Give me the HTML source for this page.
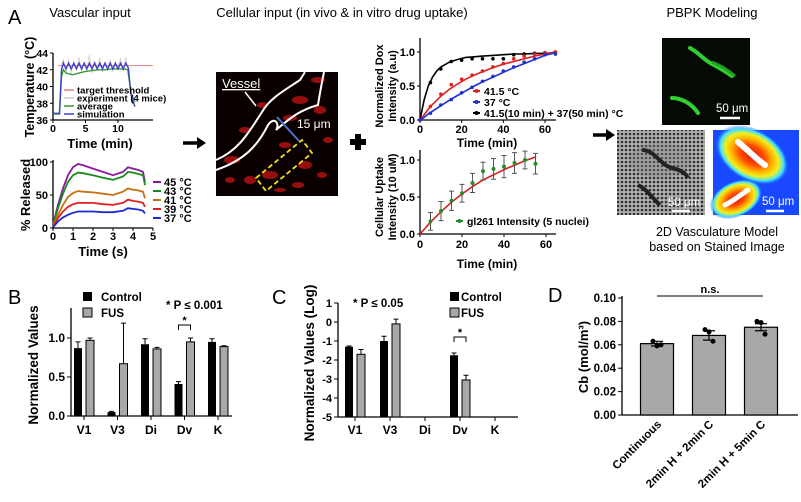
<!DOCTYPE html>
<html><head><meta charset="utf-8"><style>
body{margin:0;background:#fff}
svg{display:block;font-family:"Liberation Sans",Arial,sans-serif}
.t{font-weight:bold}
.ax{stroke:#000;stroke-width:1.3;fill:none}
</style></head><body>
<svg id="fig" width="801" height="502" viewBox="0 0 801 502" xmlns="http://www.w3.org/2000/svg">
<defs>
<radialGradient id="hg1" cx="0.5" cy="0.5" r="0.5"><stop offset="0" stop-color="#e01010"/><stop offset="0.35" stop-color="#ff5000"/><stop offset="0.55" stop-color="#ffb000"/><stop offset="0.72" stop-color="#f0f020"/><stop offset="0.86" stop-color="#40e0ff"/><stop offset="1" stop-color="#1848ff" stop-opacity="0"/></radialGradient>
<pattern id="mesh" width="4" height="4" patternUnits="userSpaceOnUse"><rect width="4" height="4" fill="#b0b0b0"/><circle cx="2" cy="2" r="1.3" fill="#303030"/></pattern>
</defs>
<g id="root"></g>
</svg>
<script>
// ---- data ----
const tempThreshold=[42.5];
const expT=[1.2,1.6,2,2.4,2.8,3.2,3.6,4,4.4,4.8,5.2,5.6,6,6.4,6.8,7.2,7.6,8,8.4,8.8,9.2,9.6,10,10.4,10.8,11.2,11.6,12,12.4];
const expV=[42.5,43.2,41.6,43.3,41.5,42.9,42.0,43.5,41.8,42.9,41.9,43.8,41.6,43.1,42.0,43.4,41.7,42.9,41.9,43.3,41.8,42.8,42.2,43.4,41.8,43.5,41.5,39.5,38.5];
const avgT=[0,1,1.3,1.6,2,3,4,5,6,7,8,9,10,11,11.5,12,12.6];
const avgV=[36.7,36.7,41.2,42.0,41.6,41.4,41.6,41.8,41.9,42.0,42.0,42.1,42.1,42.1,42.0,39.2,38.2];
const simT=[0,1,1.3,1.6,2,2.4,2.8,3.2,3.6,4,4.4,4.8,5.2,5.6,6,6.4,6.8,7.2,7.6,8,8.4,8.8,9.2,9.6,10,10.4,10.8,11.2,11.6,12,12.6];
const simV=[36.8,36.8,42.0,42.8,42.1,42.8,42.1,42.8,42.1,42.8,42.1,42.8,42.1,42.8,42.1,42.8,42.1,42.8,42.1,42.8,42.1,42.8,42.1,42.8,42.1,42.8,42.1,42.8,42.2,39.0,37.6];
const relT=[0,0.25,0.5,0.75,1,1.25,1.5,2,2.5,3,3.5,3.75,4,4.25,4.5,4.6];
const rel45=[5,35,60,80,92,97,95,90,85,80,85,92,90,88,85,70];
const rel43=[5,30,52,70,80,84,83,80,76,73,78,85,84,82,80,65];
const rel41=[3,20,35,47,53,56,55,54,52,50,55,60,58,57,55,45];
const rel39=[2,15,25,32,36,38,38,38,36,35,38,43,41,40,38,32];
const rel37=[1,10,16,20,23,25,25,25,24,24,26,30,29,28,26,22];
const doxT=[0,5,10,15,20,25,30,35,40,45,50,55,60,65];
const doxRed=[0,0.2,0.38,0.52,0.6,0.66,0.72,0.78,0.83,0.9,0.94,0.97,0.99,1.0];
const doxBlue=[0,0.1,0.22,0.3,0.4,0.48,0.57,0.64,0.72,0.78,0.85,0.9,0.96,0.97];
const doxBlack=[0,0.55,0.75,0.86,0.88,0.9,0.9,0.9,0.9,0.96,0.97,0.98,0.99,1.0];
const fitT=[0,2,4,6,8,10,14,18,22,26,30,35,40,45,50,55,60,65];
const fitRed=[0,0.08,0.16,0.23,0.29,0.35,0.45,0.53,0.6,0.66,0.71,0.77,0.82,0.86,0.9,0.94,0.97,1.0];
const fitBlue=[0,0.04,0.09,0.13,0.17,0.21,0.29,0.36,0.43,0.5,0.56,0.63,0.7,0.77,0.83,0.89,0.95,0.99];
const fitBlack=[0,0.3,0.5,0.63,0.72,0.78,0.85,0.89,0.92,0.93,0.94,0.95,0.96,0.97,0.97,0.98,0.98,0.99];
const upT=[5,10,15,20,25,30,35,40,45,50,55];
const upV=[0.17,0.31,0.45,0.55,0.69,0.85,0.88,0.91,0.96,1.0,0.95];
const upE=[0.12,0.13,0.13,0.12,0.13,0.12,0.14,0.15,0.14,0.12,0.14];
const upFitT=[0,5,10,15,20,25,30,35,40,45,50,55];
const upFitV=[0,0.16,0.3,0.43,0.54,0.64,0.73,0.8,0.87,0.93,0.99,1.04];
const catB=["V1","V3","Di","Dv","K"];
const bCtrl=[0.87,0.05,0.92,0.41,0.95];
const bCtrlE=[0.08,0.01,0.07,0.03,0.04];
const bFus=[0.97,0.67,0.86,0.95,0.89];
const bFusE=[0.03,0.52,0.02,0.05,0.01];
const cCtrl=[-1.3,-1.0,null,-1.75,null];
const cCtrlE=[0.04,0.25,0,0.12,0];
const cFus=[-1.7,-0.1,null,-3.05,null];
const cFusE=[0.25,0.25,0,0.25,0];
const catD=["Continuous","2min H + 2min C","2min H + 5min C"];
const dVal=[0.061,0.068,0.075];
const dErr=[0.002,0.004,0.003];
const dPts=[[0.063,0.059,0.060],[0.073,0.071,0.063],[0.080,0.079,0.069]];
const bTicks=[0,0.5,1.0];
const cTicks=[1,0,-1,-2,-3,-4,-5];
const dTicks=[0,0.02,0.04,0.06,0.08,0.10];

const NS="http://www.w3.org/2000/svg";
const root=document.getElementById('root');
function mk(tag,at,parent){const e=document.createElementNS(NS,tag);for(const k in at)e.setAttribute(k,at[k]);(parent||root).appendChild(e);return e;}
function txt(x,y,s,cls,anchor,size,extra){const e=mk('text',{x:x,y:y,'text-anchor':anchor||'middle'});if(cls)e.setAttribute('class',cls);e.setAttribute('font-size',size||11);if(extra)for(const k in extra)e.setAttribute(k,extra[k]);e.textContent=s;return e;}
function lin(d0,d1,r0,r1){return v=>r0+(v-d0)/(d1-d0)*(r1-r0);}
function poly(xs,ys,sx,sy,col,w){const p=xs.map((x,i)=>sx(x).toFixed(1)+','+sy(ys[i]).toFixed(1)).join(' ');return mk('polyline',{points:p,fill:'none',stroke:col,'stroke-width':w||1.3});}

let e;
e=txt(8,24,'A',null,'start',20);
e=txt(90,17,'Vascular input',null,'middle',13);
e=txt(342,17,'Cellular input (in vivo & in vitro drug uptake)',null,'middle',13);
e=txt(712,17,'PBPK Modeling',null,'middle',13);

{const sx=lin(0,10,53,118),sy=lin(36,44,120,53);
 const g=mk('g',{});
 mk('path',{d:'M53,53V120H153',class:'ax'},g);
 [36,38,40,42,44].forEach(v=>{mk('line',{x1:50,x2:53,y1:sy(v),y2:sy(v),stroke:'#000'},g);txt(48,sy(v)+4,String(v),'t','end',10.5);});
 [0,5,10].forEach(v=>{mk('line',{x1:sx(v),x2:sx(v),y1:120,y2:123,stroke:'#000'},g);txt(sx(v),132,String(v),'t','middle',10.5);});
 txt(100,148,'Time (min)','t','middle',13);
 txt(0,0,'Temperature (°C)','t','middle',12.5,{transform:'translate(34,87) rotate(-90)'});
 e=poly(expT,expV,sx,sy,'#d0d0d0',0.8);
 e=mk('line',{x1:sx(0.8),x2:153,y1:sy(tempThreshold[0]),y2:sy(tempThreshold[0]),stroke:'#e08080','stroke-width':1});
 e=poly(avgT,avgV,sx,sy,'#3a9a3a',1.4);
 e=poly(simT,simV,sx,sy,'#4040d0',1.4);
 [['target threshold','#e08080'],['experiment (4 mice)','#ccc'],['average','#3a9a3a'],['simulation','#4040d0']].forEach((l,i)=>{const y=90+i*8;mk('line',{x1:64,x2:74,y1:y,y2:y,stroke:l[1],'stroke-width':1.5});e=txt(77,y+3.5,l[0],'t','start',9.5);});
}
{const sx=lin(0,5,53,153),sy=lin(0,100,228,162);
 mk('path',{d:'M53,160V228H153',class:'ax'});
 [0,50,100].forEach(v=>{mk('line',{x1:50,x2:53,y1:sy(v),y2:sy(v),stroke:'#000'});txt(48,sy(v)+4,String(v),'t','end',11);});
 [0,1,2,3,4,5].forEach(v=>{mk('line',{x1:sx(v),x2:sx(v),y1:228,y2:231,stroke:'#000'});txt(sx(v),240,String(v),'t','middle',11);});
 txt(103,256,'Time (s)','t','middle',13);
 txt(0,0,'% Released','t','middle',13,{transform:'translate(30,195) rotate(-90)'});
 const ser=[[rel45,'#8a1a9a','45 °C'],[rel43,'#1a8a1a','43 °C'],[rel41,'#c87010','41 °C'],[rel39,'#e02020','39 °C'],[rel37,'#1a2ad0','37 °C']];
 ser.forEach((s,i)=>{e=poly(relT,s[0],sx,sy,s[1],1.8);
  const y=182+i*9;mk('line',{x1:153,x2:161,y1:y,y2:y,stroke:s[1],'stroke-width':2});e=txt(164,y+4,s[2],'t','start',11);});
}
function arrow(x1,x2,y,name){const g=mk('g',{});mk('line',{x1:x1,x2:x2-7,y1:y,y2:y,stroke:'#000','stroke-width':3.5},g);mk('polygon',{points:`${x2-9},${y-6} ${x2},${y} ${x2-9},${y+6}`,fill:'#000'},g);}
arrow(183,206,143,'arrow-1');arrow(593,615,135,'arrow-2');
e=mk('path',{d:'M350,142h16M358,134v16',stroke:'#000','stroke-width':6});

{const g=mk('g',{});
 mk('rect',{x:216,y:72,width:122,height:124,fill:'#0a0000'},g);
 [[232,160,8,4],[250,180,6,4],[290,118,7,3],[300,100,8,4],[320,110,6,4],[328,140,5,3],[305,165,7,4],[270,175,8,4],[245,130,6,3],[262,105,5,3],[318,80,7,3],[298,185,6,3],[230,180,5,3],[285,145,6,3],[322,175,5,3],[280,190,6,2]].forEach(c=>mk('ellipse',{cx:c[0],cy:c[1],rx:c[2],ry:c[3],fill:'#b01010',opacity:0.85},g));
 mk('path',{d:'M216,160 C240,150 250,130 262,112 C270,98 285,90 300,80 L305,72',stroke:'#fff','stroke-width':2,fill:'none'},g);
 mk('path',{d:'M216,170 C245,160 258,145 268,125 C275,115 280,125 276,130 C290,118 300,110 318,105 C320,92 322,82 324,72',stroke:'#fff','stroke-width':2,fill:'none'},g);
 txt(222,88,'Vessel',null,'start',13,{fill:'#fff','text-decoration':'underline'});
 mk('line',{x1:245,y1:92,x2:256,y2:106,stroke:'#fff','stroke-width':1.5},g);
 mk('line',{x1:277,y1:117,x2:299,y2:141,stroke:'#5070d0','stroke-width':2},g);
 txt(297,128,'15 μm',null,'start',12,{fill:'#fff'});
 mk('polygon',{points:'256,178 302,140 312,153 266,191',fill:'none',stroke:'#f0e020','stroke-width':1.8,'stroke-dasharray':'5,3'},g);
}
{const sx=lin(0,60,420,545),sy=lin(0,1,120,52);
 const g=mk('g',{});
 mk('path',{d:'M420,38V120H556',class:'ax'},g);
 [0,0.5,1].forEach(v=>{mk('line',{x1:417,x2:420,y1:sy(v),y2:sy(v),stroke:'#000'});txt(415,sy(v)+4,v.toFixed(1),'t','end',11);});
 [0,20,40,60].forEach(v=>{mk('line',{x1:sx(v),x2:sx(v),y1:120,y2:123,stroke:'#000'});txt(sx(v),133,String(v),'t','middle',11);});
 txt(487,147,'Time (min)','t','middle',12);
 txt(0,0,'Normalized Dox','t','middle',11,{transform:'translate(383,86) rotate(-90)'});
 txt(0,0,'Intensity (a.u)','t','middle',11,{transform:'translate(396,86) rotate(-90)'});
 [[fitBlack,doxBlack,'#000'],[fitRed,doxRed,'#e02020'],[fitBlue,doxBlue,'#2030d0']].forEach(s=>{e=poly(fitT,s[0],sx,sy,s[2],1.6);
  doxT.forEach((t,i)=>{e=mk('circle',{cx:sx(t),cy:sy(s[1][i]),r:1.8,fill:s[2]});});});
 [['41.5 °C','#e02020'],['37 °C','#2030d0'],['41.5(10 min) + 37(50 min) °C','#000']].forEach((l,i)=>{const y=91+i*11;mk('line',{x1:473,x2:480,y1:y,y2:y,stroke:l[1],'stroke-width':2});mk('circle',{cx:476.5,cy:y,r:2,fill:l[1]});e=txt(484,y+4,l[0],'t','start',10.5);});
}
{const sx=lin(0,60,420,546),sy=lin(0,1,234,160);
 mk('path',{d:'M420,150V234H556',class:'ax'});
 [0,0.5,1].forEach(v=>{mk('line',{x1:417,x2:420,y1:sy(v),y2:sy(v),stroke:'#000'});txt(415,sy(v)+4,v.toFixed(1),'t','end',11);});
 [0,20,40,60].forEach(v=>{mk('line',{x1:sx(v),x2:sx(v),y1:234,y2:237,stroke:'#000'});txt(sx(v),248,String(v),'t','middle',11);});
 txt(487,268,'Time (min)','t','middle',12);
 txt(0,0,'Cellular Uptake','t','middle',11,{transform:'translate(383,197) rotate(-90)'});
 txt(0,0,'Intensity (10 uM)','t','middle',11,{transform:'translate(396,197) rotate(-90)'});
 e=poly(upFitT,upFitV,sx,sy,'#d02020',1.6);
 upT.forEach((t,i)=>{const x=sx(t);mk('path',{d:`M${x},${sy(upV[i]-upE[i])}V${sy(upV[i]+upE[i])}M${x-2.5},${sy(upV[i]-upE[i])}h5M${x-2.5},${sy(upV[i]+upE[i])}h5`,stroke:'#555','stroke-width':1});e=mk('circle',{cx:x,cy:sy(upV[i]),r:2,fill:'#2a8a2a'});});
 mk('line',{x1:456,x2:463,y1:221,y2:221,stroke:'#2a8a2a','stroke-width':2});mk('circle',{cx:459.5,cy:221,r:2,fill:'#2a8a2a'});
 e=txt(467,225,'gl261 Intensity (5 nuclei)','t','start',10.5);
}
{const g=mk('g',{});
 mk('rect',{x:662,y:38,width:88,height:87,fill:'#050a05'},g);
 mk('path',{d:'M690,48 C698,52 704,60 712,64 C720,68 726,72 732,76',stroke:'#30d030','stroke-width':4,fill:'none','stroke-linecap':'round'},g);
 mk('path',{d:'M712,62 C722,66 728,70 735,76',stroke:'#20a020','stroke-width':3,fill:'none'},g);
 mk('path',{d:'M672,98 C682,98 692,104 698,113',stroke:'#30d030','stroke-width':4,fill:'none','stroke-linecap':'round'},g);
 txt(716,112,'50 μm',null,'start',11.5,{fill:'#fff'});mk('line',{x1:720,x2:740,y1:118,y2:118,stroke:'#fff','stroke-width':2.5},g);
 const g2=mk('g',{});
 mk('rect',{x:617,y:130,width:88,height:85,fill:'url(#mesh)'},g2);
 mk('ellipse',{cx:660,cy:160,rx:30,ry:18,fill:'#888',opacity:0.35},g2);
 mk('path',{d:'M642,150 C655,150 660,165 672,168 C680,170 685,172 688,178',stroke:'#222','stroke-width':4,fill:'none'},g2);
 mk('path',{d:'M638,185 C648,190 652,198 660,205',stroke:'#222','stroke-width':4,fill:'none'},g2);
 txt(668,206,'50 μm',null,'start',11.5,{fill:'#fff'});mk('line',{x1:672,x2:690,y1:211,y2:211,stroke:'#fff','stroke-width':2.5},g2);
 const g3=mk('g',{});
 mk('rect',{x:713,y:130,width:86,height:85,fill:'#1848ff'},g3);
 mk('ellipse',{cx:752,cy:155,rx:40,ry:26,fill:'url(#hg1)',transform:'rotate(30 752 155)'},g3);
 mk('ellipse',{cx:736,cy:199,rx:28,ry:18,fill:'url(#hg1)',transform:'rotate(-25 736 199)'},g3);
 mk('path',{d:'M738,142 C748,150 755,158 765,165',stroke:'#fff','stroke-width':6,fill:'none','stroke-linecap':'round'},g3);
 mk('path',{d:'M725,205 C735,200 740,195 748,190',stroke:'#fff','stroke-width':5,fill:'none','stroke-linecap':'round'},g3);
 txt(762,205,'50 μm',null,'start',11.5,{fill:'#fff'});mk('line',{x1:766,x2:784,y1:211,y2:211,stroke:'#fff','stroke-width':2.5},g3);
 e=txt(717,236,'2D Vasculature Model',null,'middle',12.5);
 e=txt(717,251,'based on Stained Image',null,'middle',12.5);
}
function errbar(x,yv,yt,w){mk('path',{d:`M${x},${yv}V${yt}M${x-w},${yt}h${2*w}`,stroke:'#000','stroke-width':1});}
{const sy=lin(0,1,416,338),cx=i=>84+i*33.5;
 e=txt(8,304,'B',null,'start',20);
 mk('path',{d:'M71,308V416H232',class:'ax'});
 bTicks.forEach(v=>{mk('line',{x1:67,x2:71,y1:sy(v),y2:sy(v),stroke:'#000'});txt(65,sy(v)+4,v.toFixed(1),'t','end',12);});
 catB.forEach((c,i)=>{mk('line',{x1:cx(i),x2:cx(i),y1:416,y2:420,stroke:'#000'});txt(cx(i),434,c,'t','middle',12);
  e=mk('rect',{x:cx(i)-10,y:sy(bCtrl[i]),width:8,height:416-sy(bCtrl[i]),fill:'#000'});
  errbar(cx(i)-6,sy(bCtrl[i]),sy(bCtrl[i]+bCtrlE[i]),2.5);
  e=mk('rect',{x:cx(i)+2,y:sy(bFus[i]),width:8,height:416-sy(bFus[i]),fill:'#a8a8a8',stroke:'#000','stroke-width':1});
  errbar(cx(i)+6,sy(bFus[i]),sy(bFus[i]+bFusE[i]),2.5);});
 txt(0,0,'Normalized Values','t','middle',13.5,{transform:'translate(38,365) rotate(-90)'});
 mk('rect',{x:83,y:292,width:9,height:9,fill:'#000'});e=txt(101,301,'Control','t','start',11.5);
 mk('rect',{x:83,y:308,width:9,height:9,fill:'#a8a8a8',stroke:'#000'});e=txt(101,317,'FUS','t','start',11.5);
 txt(166,309,'* P ≤ 0.001','t','start',11.5);
 mk('path',{d:`M${cx(3)-6},330V325H${cx(3)+6}V330`,stroke:'#000',fill:'none'});txt(cx(3),324,'*','t','middle',11);
}
{const sy=lin(-5,1,417,303),cx=i=>355+i*35;
 e=txt(272,304,'C',null,'start',20);
 mk('path',{d:'M338,303V417H518',class:'ax'});
 cTicks.forEach(v=>{mk('line',{x1:334,x2:338,y1:sy(v),y2:sy(v),stroke:'#000'});txt(332,sy(v)+4,String(v),'t','end',11);});
 catB.forEach((c,i)=>{mk('line',{x1:cx(i),x2:cx(i),y1:417,y2:421,stroke:'#000'});txt(cx(i),434,c,'t','middle',12);
  if(cCtrl[i]!==null){e=mk('rect',{x:cx(i)-10,y:sy(cCtrl[i]),width:8,height:417-sy(cCtrl[i]),fill:'#000'});errbar(cx(i)-6,sy(cCtrl[i]),sy(cCtrl[i]+cCtrlE[i]),2.5);}
  if(cFus[i]!==null){e=mk('rect',{x:cx(i)+2,y:sy(cFus[i]),width:8,height:417-sy(cFus[i]),fill:'#a8a8a8',stroke:'#000'});errbar(cx(i)+6,sy(cFus[i]),sy(cFus[i]+cFusE[i]),2.5);}});
 txt(0,0,'Normalized Values (Log)','t','middle',13.5,{transform:'translate(314,363) rotate(-90)'});
 txt(353,307,'* P ≤ 0.05','t','start',11.5);
 mk('rect',{x:450,y:292,width:9,height:9,fill:'#000'});e=txt(461,301,'Control','t','start',11.5);
 mk('rect',{x:450,y:308,width:9,height:9,fill:'#a8a8a8',stroke:'#000'});e=txt(461,317,'FUS','t','start',11.5);
 mk('path',{d:`M${cx(3)-6},342V337H${cx(3)+6}V342`,stroke:'#000',fill:'none'});txt(cx(3),336,'*','t','middle',11);
}
{const sy=lin(0,0.1,415,298),cx=i=>657+i*52;
 e=txt(548,302,'D',null,'start',20);
 mk('path',{d:'M622,296V415H798',class:'ax'});
 dTicks.forEach(v=>{mk('line',{x1:618,x2:622,y1:sy(v),y2:sy(v),stroke:'#000'});txt(616,sy(v)+4,v.toFixed(2),'t','end',11.5);});
 catD.forEach((c,i)=>{const x=cx(i);
  e=mk('rect',{x:x-16.5,y:sy(dVal[i]),width:33,height:415-sy(dVal[i]),fill:'#a8a8a8',stroke:'#000','stroke-width':1.2});
  mk('path',{d:`M${x},${sy(dVal[i]-dErr[i])}V${sy(dVal[i]+dErr[i])}M${x-6},${sy(dVal[i]-dErr[i])}h12M${x-6},${sy(dVal[i]+dErr[i])}h12`,stroke:'#000','stroke-width':1.2});
  dPts[i].forEach((p,j)=>{e=mk('circle',{cx:x-4+j*4,cy:sy(p),r:2.5,fill:'#000'});});
  e=txt(0,0,c,'t','end',11.5,{transform:`translate(${x+5},425) rotate(-45)`});});
 txt(0,0,'Cb (mol/m³)','t','middle',13,{transform:'translate(588,357) rotate(-90)'});
 mk('line',{x1:657,x2:763,y1:296,y2:296,stroke:'#000'});txt(710,293,'n.s.','t','middle',11);
}
</script>
</body></html>
